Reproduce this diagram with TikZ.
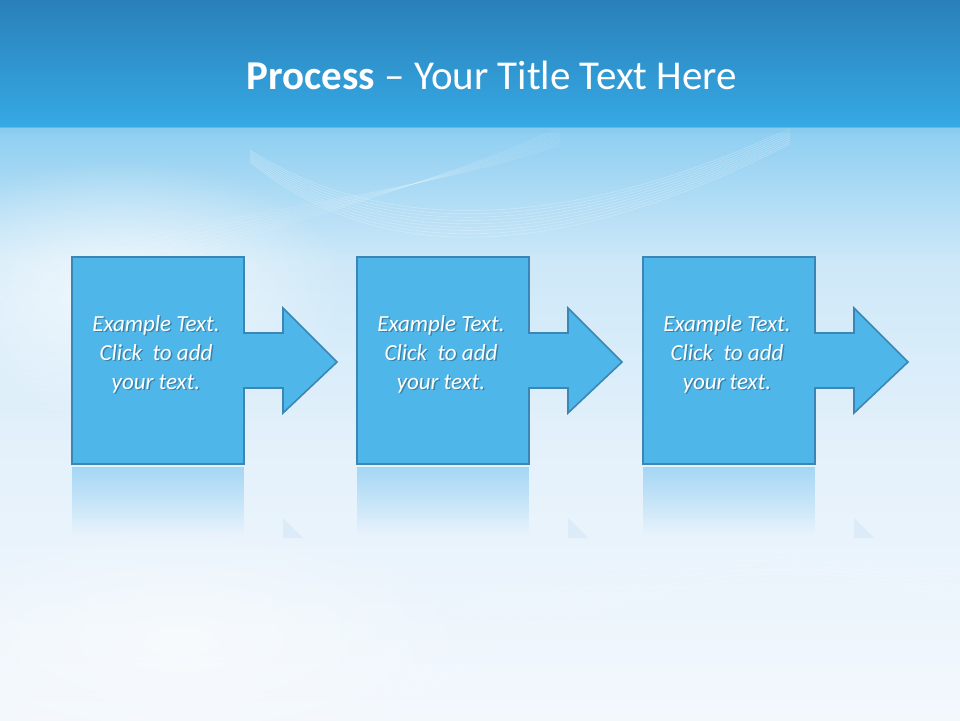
\documentclass[tikz,border=0pt]{standalone}
\usepackage{fontspec}
\setmainfont{Carlito}
\usetikzlibrary{fadings}
\tikzfading[name=glow, inner color=transparent!0, outer color=transparent!100]
\definecolor{titletop}{HTML}{2A80B9}
\definecolor{titlebot}{HTML}{36A9E4}
\definecolor{bgA}{HTML}{8DCEF1}
\definecolor{bgB}{HTML}{CDE8F8}
\definecolor{bgC}{HTML}{E4F1FB}
\definecolor{bgD}{HTML}{F3F8FD}
\definecolor{boxfill}{HTML}{4FB6EA}
\definecolor{boxline}{HTML}{3A86B6}
\definecolor{refl}{HTML}{9ED4F4}
\tikzset{
  procshape/.style={fill=boxfill, draw=boxline, line width=1.6pt, line join=miter},
  proctext/.style={text=white, font=\fontsize{23}{29}\selectfont\itshape, align=center},
  shadowtext/.style={text=black, opacity=0.28, font=\fontsize{23}{29}\selectfont\itshape, align=center},
  deco/.style={draw=white, line width=0.7pt, opacity=0.25},
}
\begin{document}
\begin{tikzpicture}[x=1pt,y=-1pt]
\useasboundingbox (0,0) rectangle (960,720);
% background
\fill[top color=bgA, bottom color=bgB] (0,127) rectangle (960,260);
\fill[top color=bgB, bottom color=bgC] (0,259.5) rectangle (960,450);
\fill[top color=bgC, bottom color=bgD] (0,449.5) rectangle (960,720);
% soft light glows
\fill[white, path fading=glow, opacity=0.7] (120,290) ellipse (230 and 130);
\fill[white, path fading=glow, opacity=0.5] (180,640) ellipse (300 and 120);
% decorative curves
\foreach \d in {0,5,...,40} {
  \draw[deco] (250,150+\d*0.3) .. controls (420,260+\d) and (640,200+\d*0.5) .. (790,128+\d*0.4);
}
\foreach \d in {0,8,...,56} {
  \draw[deco, opacity=0.15] (0,330-\d) .. controls (200,240-\d*0.5) and (400,200) .. (560,128+\d*0.3);
}
\foreach \d in {0,10,...,60} {
  \draw[deco, opacity=0.2] (380,720-\d) .. controls (600,560-\d) and (820,560) .. (960,600-\d*0.5);
}
% title bar
\fill[top color=titletop, bottom color=titlebot] (0,0) rectangle (960,127);
\fill[titlebot!60!white, opacity=0.5] (0,127) rectangle (960,133);
\node[text=white, font=\fontsize{41}{45}\selectfont, anchor=center] (title) at (492,75) {\textbf{Process} -- Your Title Text Here};
% three process shapes
\foreach \o/\n in {0/A,285/B,571/C} {
  \begin{scope}[xshift=\o pt]
    % reflection
    \fill[refl, path fading=south, opacity=0.9] (72,467) rectangle (244,535);
    \fill[boxline, opacity=0.07] (283,518) -- (303,538) -- (283,538) -- cycle;
    % shape
    \draw[procshape] (72,257) -- (244,257) -- (244,333) -- (283,333) -- (283,308)
      -- (337,362) -- (283,413) -- (283,388) -- (244,388) -- (244,464) -- (72,464) -- cycle;
    \node[shadowtext] at (157.5,355.5) {Example Text.\\Click\ \ to add\\your text.};
    \node[proctext] (text\n) at (156,354) {Example Text.\\Click\ \ to add\\your text.};
  \end{scope}
}
\end{tikzpicture}
\end{document}
